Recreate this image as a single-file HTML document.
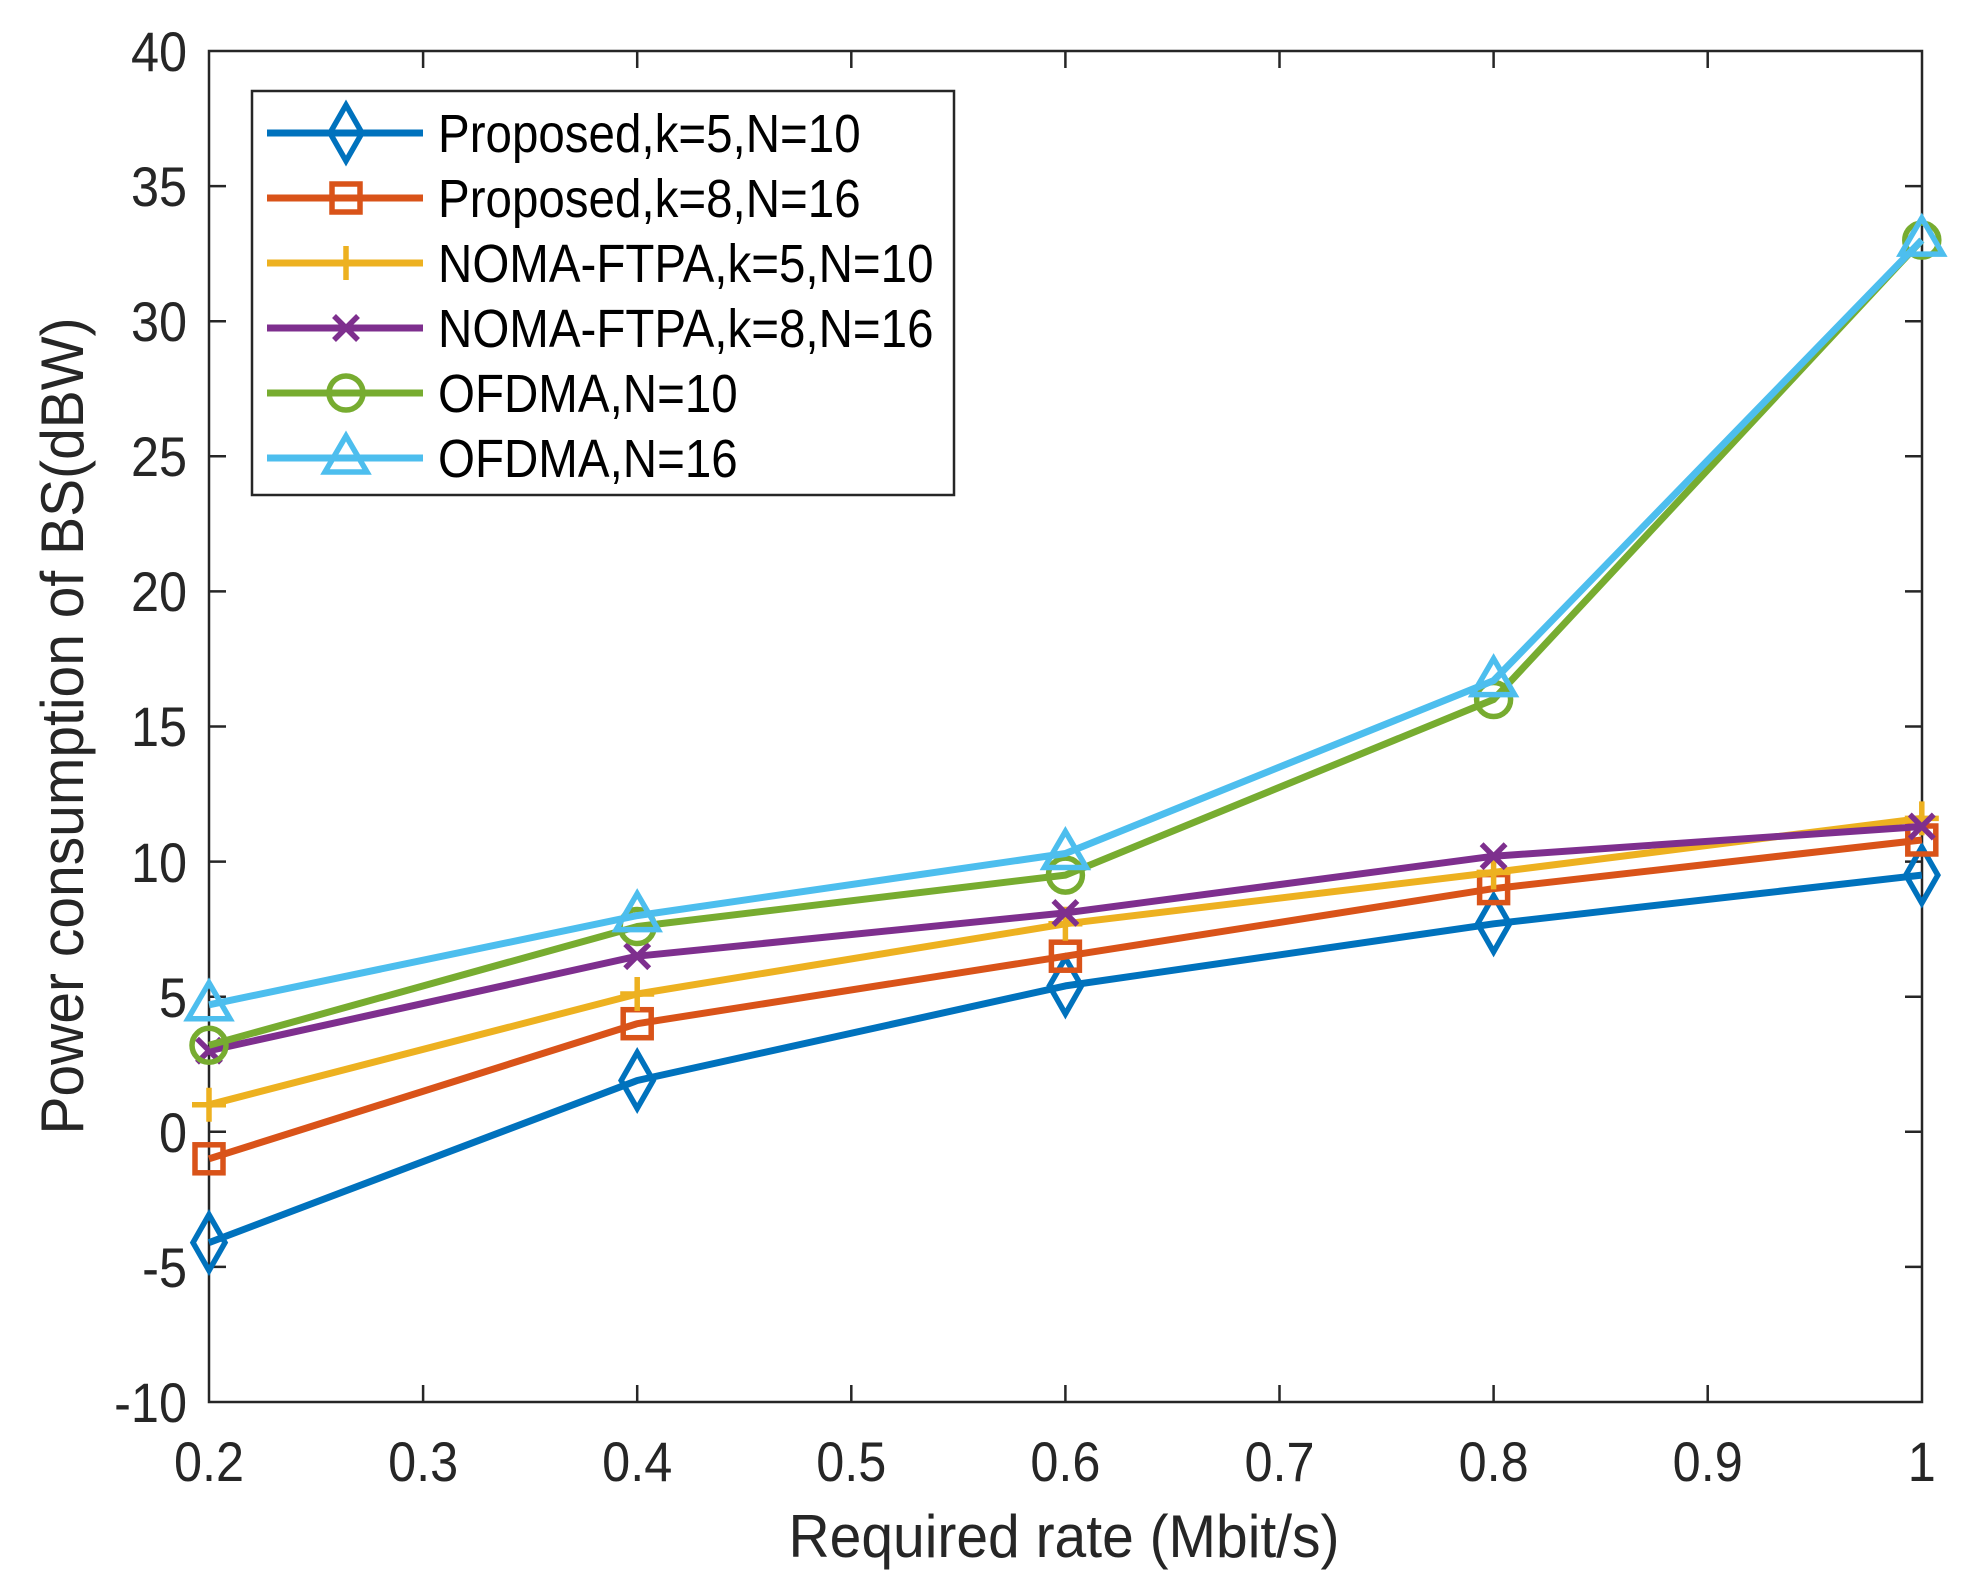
<!DOCTYPE html>
<html><head><meta charset="utf-8"><style>
html,body{margin:0;padding:0;background:#fff;}
svg{display:block;}
text{font-family:"Liberation Sans",sans-serif;}
</style></head><body>
<svg width="1963" height="1591" viewBox="0 0 1963 1591" xmlns="http://www.w3.org/2000/svg">
<defs>
<polygon id="md" points="0,-28 16,0 0,28 -16,0" fill="none" stroke-width="5.5"/>
<rect id="ms" x="-14" y="-14" width="28" height="28" fill="none" stroke-width="5.5"/>
<path id="mp" d="M-17,0H17M0,-17V17" fill="none" stroke-width="5.5"/>
<path id="mx" d="M-12,-12L12,12M-12,12L12,-12" fill="none" stroke-width="5.5"/>
<circle id="mo" r="17" fill="none" stroke-width="5.5"/>
<polygon id="mt" points="0,-22 21,14 -21,14" fill="none" stroke-width="5.5"/>
</defs>
<rect width="1963" height="1591" fill="#fff"/>
<g stroke="#262626" stroke-width="2.5" fill="none">
<rect x="209" y="51" width="1713" height="1351"/>
<path d="M423.1,1402V1385M637.2,1402V1385M851.3,1402V1385M1065.4,1402V1385M1279.5,1402V1385M1493.6,1402V1385M1707.7,1402V1385
M423.1,51V68M637.2,51V68M851.3,51V68M1065.4,51V68M1279.5,51V68M1493.6,51V68M1707.7,51V68
M209,186.1H226M209,321.2H226M209,456.3H226M209,591.4H226M209,726.5H226M209,861.6H226M209,996.7H226M209,1131.8H226M209,1266.9H226
M1922,186.1H1905M1922,321.2H1905M1922,456.3H1905M1922,591.4H1905M1922,726.5H1905M1922,861.6H1905M1922,996.7H1905M1922,1131.8H1905M1922,1266.9H1905"/>
</g>
<g font-size="56" fill="#262626" text-anchor="middle">
<text transform="translate(209,1481) scale(0.9,1)">0.2</text>
<text transform="translate(423.1,1481) scale(0.9,1)">0.3</text>
<text transform="translate(637.2,1481) scale(0.9,1)">0.4</text>
<text transform="translate(851.3,1481) scale(0.9,1)">0.5</text>
<text transform="translate(1065.4,1481) scale(0.9,1)">0.6</text>
<text transform="translate(1279.5,1481) scale(0.9,1)">0.7</text>
<text transform="translate(1493.6,1481) scale(0.9,1)">0.8</text>
<text transform="translate(1707.7,1481) scale(0.9,1)">0.9</text>
<text transform="translate(1921.8,1481) scale(0.9,1)">1</text>
</g>
<g font-size="56" fill="#262626" text-anchor="end">
<text transform="translate(187,71) scale(0.9,1)">40</text>
<text transform="translate(187,206) scale(0.9,1)">35</text>
<text transform="translate(187,341) scale(0.9,1)">30</text>
<text transform="translate(187,476) scale(0.9,1)">25</text>
<text transform="translate(187,611) scale(0.9,1)">20</text>
<text transform="translate(187,746) scale(0.9,1)">15</text>
<text transform="translate(187,882) scale(0.9,1)">10</text>
<text transform="translate(187,1017) scale(0.9,1)">5</text>
<text transform="translate(187,1152) scale(0.9,1)">0</text>
<text transform="translate(187,1287) scale(0.9,1)">-5</text>
<text transform="translate(187,1422) scale(0.9,1)">-10</text>
</g>
<text transform="translate(1064,1557) scale(0.95,1)" font-size="60" fill="#262626" text-anchor="middle">Required rate (Mbit/s)</text>
<text transform="translate(83,726) rotate(-90) scale(0.95,1)" font-size="60" fill="#262626" text-anchor="middle">Power consumption of BS(dBW)</text>

<g stroke="#0072BD">
<polyline points="209,1242.6 637.2,1080.5 1065.4,985.9 1493.6,923.8 1921.8,875.1" fill="none" stroke-width="7" stroke-linejoin="round"/>
<use href="#md" x="209" y="1242.6"/><use href="#md" x="637.2" y="1080.5"/><use href="#md" x="1065.4" y="985.9"/><use href="#md" x="1493.6" y="923.8"/><use href="#md" x="1921.8" y="875.1"/>
</g>
<g stroke="#D95319">
<polyline points="209,1158.8 637.2,1023.7 1065.4,956.2 1493.6,888.6 1921.8,840" fill="none" stroke-width="7" stroke-linejoin="round"/>
<use href="#ms" x="209" y="1158.8"/><use href="#ms" x="637.2" y="1023.7"/><use href="#ms" x="1065.4" y="956.2"/><use href="#ms" x="1493.6" y="888.6"/><use href="#ms" x="1921.8" y="840"/>
</g>
<g stroke="#EDB120">
<polyline points="209,1104.8 637.2,994 1065.4,923.8 1493.6,872.4 1921.8,818.4" fill="none" stroke-width="7" stroke-linejoin="round"/>
<use href="#mp" x="209" y="1104.8"/><use href="#mp" x="637.2" y="994"/><use href="#mp" x="1065.4" y="923.8"/><use href="#mp" x="1493.6" y="872.4"/><use href="#mp" x="1921.8" y="818.4"/>
</g>
<g stroke="#7E2F8E">
<polyline points="209,1050.7 637.2,956.2 1065.4,912.9 1493.6,856.2 1921.8,826.5" fill="none" stroke-width="7" stroke-linejoin="round"/>
<use href="#mx" x="209" y="1050.7"/><use href="#mx" x="637.2" y="956.2"/><use href="#mx" x="1065.4" y="912.9"/><use href="#mx" x="1493.6" y="856.2"/><use href="#mx" x="1921.8" y="826.5"/>
</g>
<g stroke="#77AC30">
<polyline points="209,1045.3 637.2,926.5 1065.4,875.1 1493.6,699.5 1921.8,240.1" fill="none" stroke-width="7" stroke-linejoin="round"/>
<use href="#mo" x="209" y="1045.3"/><use href="#mo" x="637.2" y="926.5"/><use href="#mo" x="1065.4" y="875.1"/><use href="#mo" x="1493.6" y="699.5"/><use href="#mo" x="1921.8" y="240.1"/>
</g>
<g stroke="#4DBEEE">
<polyline points="209,1004.8 637.2,915.6 1065.4,853.5 1493.6,680.6 1921.8,240.1" fill="none" stroke-width="7" stroke-linejoin="round"/>
<use href="#mt" x="209" y="1004.8"/><use href="#mt" x="637.2" y="915.6"/><use href="#mt" x="1065.4" y="853.5"/><use href="#mt" x="1493.6" y="680.6"/><use href="#mt" x="1921.8" y="240.1"/>
</g>

<rect x="252" y="91" width="702" height="404" fill="#fff" stroke="#262626" stroke-width="2.5"/>
<g stroke="#0072BD"><path d="M267,133H423" stroke-width="7"/><use href="#md" x="346" y="133"/></g>
<g stroke="#D95319"><path d="M267,198H423" stroke-width="7"/><use href="#ms" x="346" y="198"/></g>
<g stroke="#EDB120"><path d="M267,263H423" stroke-width="7"/><use href="#mp" x="346" y="263"/></g>
<g stroke="#7E2F8E"><path d="M267,328H423" stroke-width="7"/><use href="#mx" x="346" y="328"/></g>
<g stroke="#77AC30"><path d="M267,393H423" stroke-width="7"/><use href="#mo" x="346" y="393"/></g>
<g stroke="#4DBEEE"><path d="M267,458H423" stroke-width="7"/><use href="#mt" x="346" y="458"/></g>
<g font-size="54" fill="#000">
<text transform="translate(438,152) scale(0.88,1)">Proposed,k=5,N=10</text>
<text transform="translate(438,217) scale(0.88,1)">Proposed,k=8,N=16</text>
<text transform="translate(438,282) scale(0.88,1)">NOMA-FTPA,k=5,N=10</text>
<text transform="translate(438,347) scale(0.88,1)">NOMA-FTPA,k=8,N=16</text>
<text transform="translate(438,412) scale(0.88,1)">OFDMA,N=10</text>
<text transform="translate(438,477) scale(0.88,1)">OFDMA,N=16</text>
</g>
</svg>
</body></html>
